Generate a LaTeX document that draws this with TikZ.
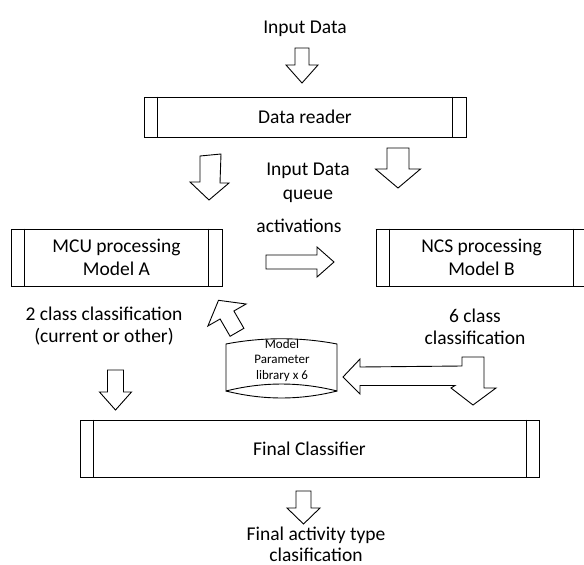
\documentclass[tikz,border=0pt]{standalone}
\usepackage{fontspec}
\setmainfont{Carlito}
\newcommand\sidebars[2]{\draw ([xshift=#2]#1.north west) -- ([xshift=#2]#1.south west) ([xshift=-#2]#1.north east) -- ([xshift=-#2]#1.south east);}
\newcommand\dnarr[6]{\draw[blk] ({#1-#5},#2) -- ({#1+#5},#2) -- ({#1+#5},#3) -- ({#1+#6},#3) -- (#1,#4) -- ({#1-#6},#3) -- ({#1-#5},#3) -- cycle;}
\begin{document}
\begin{tikzpicture}[x=1pt,y=-1pt,
  line width=0.9pt,
  lbl/.style={font=\fontsize{19.5}{23}\selectfont, align=center, inner sep=0pt},
  procbox/.style={draw, font=\fontsize{19.5}{23}\selectfont, align=center, inner sep=0pt},
  blk/.style={draw, fill=white, line join=miter},
  ]
\useasboundingbox (0,0) rectangle (584,565);

% process boxes
\node[procbox, minimum width=322, minimum height=40] (reader) at (305,117) {Data reader};
\sidebars{reader}{14}
\node[procbox, minimum width=211, minimum height=57] (mcu) at (116.5,257.5) {MCU processing\\Model A};
\sidebars{mcu}{14}
\node[procbox, minimum width=211, minimum height=57] (ncs) at (481.5,257.5) {NCS processing\\Model B};
\sidebars{ncs}{14}
\node[procbox, minimum width=459, minimum height=57] (final) at (309.5,448.5) {Final Classifier};
\sidebars{final}{13.5}

% texts
\node[lbl] (input) at (305,28.5) {Input Data};
\node[lbl, font=\fontsize{19.5}{24}\selectfont] (queue) at (308,183) {Input Data\\queue};
\node[lbl] (act) at (299,225.5) {activations};
\node[lbl, font=\fontsize{19.5}{22}\selectfont] (two) at (104,326) {2 class classification\\(current or other)};
\node[lbl, font=\fontsize{19.5}{22.3}\selectfont] (six) at (475,327) {6 class\\classification};
\node[lbl, font=\fontsize{19.5}{21}\selectfont] (out) at (316,544.5) {Final activity type\\clasification};

% parameter library shape
\draw (226,344) .. controls (262,337) and (301,337) .. (337,344) -- (337,391)
      .. controls (300,381.7) and (263,381.7) .. (226,391) -- cycle;
\draw (226,391) .. controls (263,400.3) and (300,400.3) .. (337,391);
\node[lbl, font=\fontsize{13}{15.5}\selectfont] (lib) at (282,360.5) {Model\\Parameter\\library x 6};

% block arrows
\dnarr{302}{48}{65}{83}{7}{16}
\dnarr{398}{148}{169}{188}{11}{22.5}
\draw[blk] (200,156) -- (221,154) -- (220,183) -- (229,183) -- (209,200) -- (190,182) -- (200,182) -- cycle;
\dnarr{115.5}{370}{392}{410}{8}{16}
\dnarr{303.5}{491}{508}{524}{7.5}{16.5}
\draw[blk] (266,255) -- (317,255) -- (317,247) -- (334,262) -- (317,277) -- (317,269) -- (266,269) -- cycle;
\draw[blk] (218.5,300.3) -- (246.1,304) -- (233.9,311) -- (243.9,328.3) -- (230.1,336.3) -- (220.1,319) -- (207.9,326) -- cycle;
\draw[blk] (343,377) -- (360,359) -- (360,367) -- (462,366) -- (462,357) -- (484,357) -- (484,388)
      -- (496,388) -- (473,405) -- (451,388) -- (455,385.5) -- (360,385.5) -- (360,394) -- cycle;
\end{tikzpicture}
\end{document}
